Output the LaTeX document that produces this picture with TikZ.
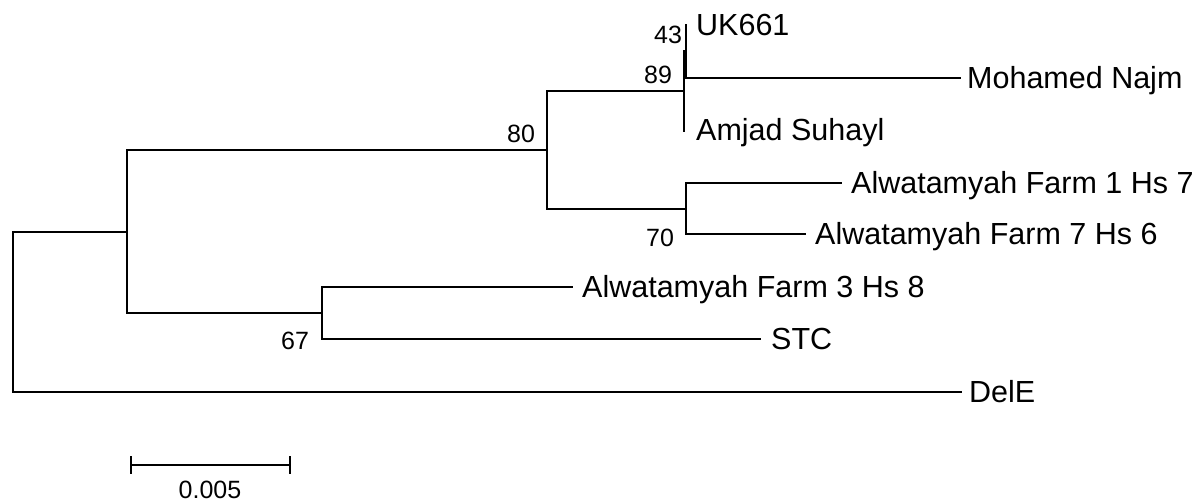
\documentclass[tikz,border=0pt]{standalone}
\usepackage{fontspec}
\setmainfont{Liberation Sans}
\begin{document}
\begin{tikzpicture}[x=1pt,y=-1pt,
  br/.style={line width=2pt,line join=miter,line cap=rect},
  leaf/.style={anchor=base west,inner sep=0pt,font=\fontsize{30.5}{34}\selectfont},
  boot/.style={anchor=center,inner sep=0pt,font=\fontsize{25}{28}\selectfont}]
\useasboundingbox (0,0) rectangle (1202,502);
% internal junctions
\coordinate (R) at (13,312);
\coordinate (A) at (127,232);
\coordinate (B) at (547,150);
\coordinate (C) at (322,313);
\coordinate (D) at (684,91);
\coordinate (F) at (686,51.5);
\coordinate (E) at (686,209);
% tips
\coordinate (tUK) at (686,25);
\coordinate (tMN) at (960,78);
\coordinate (tAS) at (684,131);
\coordinate (t17) at (841,183);
\coordinate (t76) at (805,234);
\coordinate (t38) at (572,287);
\coordinate (tSTC) at (760,339);
\coordinate (tDelE) at (961,392);
% branches
\draw[br] (A) -| (R) |- (tDelE);
\draw[br] (B) -| (A) |- (C);
\draw[br] (D) -| (B) |- (E);
\draw[br] (F) -| (D) |- (tAS);
\draw[br] (tUK) -| (F) |- (tMN);
\draw[br] (t17) -| (E) |- (t76);
\draw[br] (t38) -| (C) |- (tSTC);
% taxon labels
\node[leaf] (lUK) at (696,35.5) {UK661};
\node[leaf] (lMN) at (967,88.5) {Mohamed Najm};
\node[leaf] (lAS) at (696,141) {Amjad Suhayl};
\node[leaf] (l17) at (851,193.5) {Alwatamyah Farm 1 Hs 7};
\node[leaf] (l76) at (815,244.5) {Alwatamyah Farm 7 Hs 6};
\node[leaf] (l38) at (582,297.5) {Alwatamyah Farm 3 Hs 8};
\node[leaf] (lSTC) at (771,349.5) {STC};
\node[leaf] (lDelE) at (969,402.5) {DelE};
% bootstrap values
\node[boot] (b43) at (668,35) {43};
\node[boot] (b89) at (658,75) {89};
\node[boot] (b80) at (521,134) {80};
\node[boot] (b70) at (660,238) {70};
\node[boot] (b67) at (295,341) {67};
% scale bar
\coordinate (s1) at (131,465);
\coordinate (s2) at (290,465);
\draw[line width=2pt] (s1) -- (s2);
\draw[line width=2pt] ([yshift=9pt]s1) -- ([yshift=-9pt]s1);
\draw[line width=2pt] ([yshift=9pt]s2) -- ([yshift=-9pt]s2);
\node[boot] (sl) at (210,490) {0.005};
\end{tikzpicture}
\end{document}
